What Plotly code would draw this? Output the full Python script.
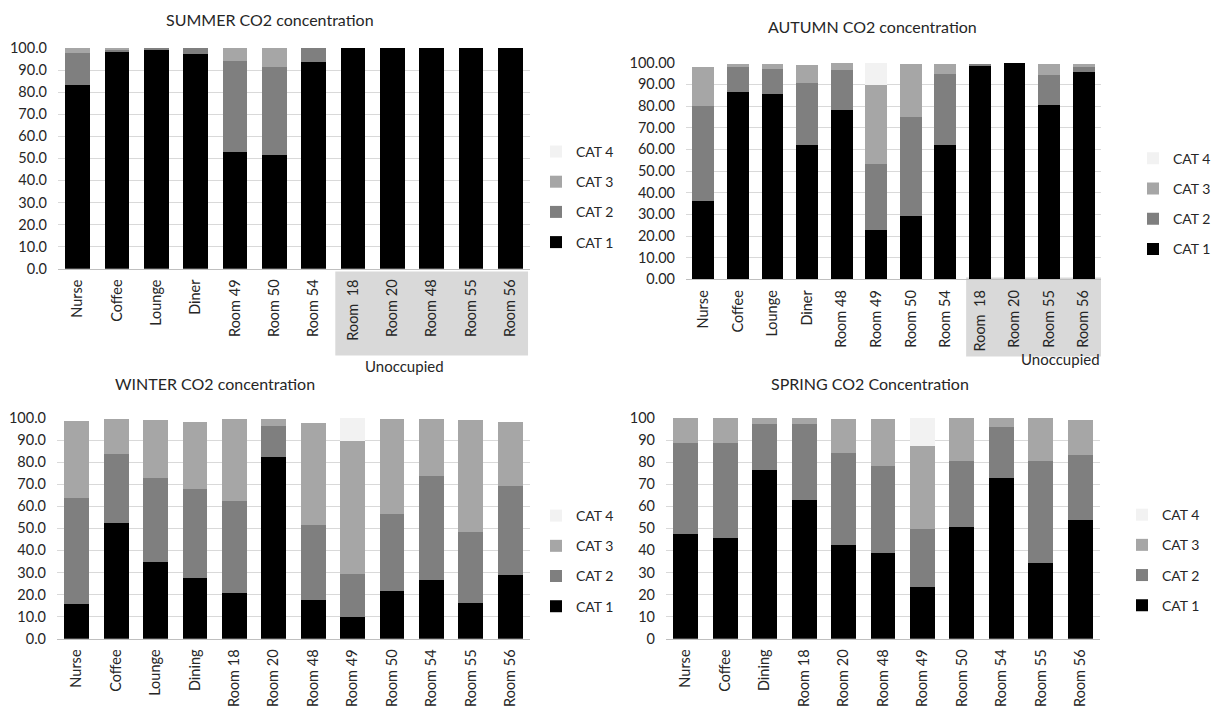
import plotly.graph_objects as go

W, H = 1222, 714

# ---------------- data ----------------
summer_cats = ["Nurse", "Coffee", "Lounge", "Diner", "Room 49", "Room 50", "Room 54",
               "Room  18", "Room 20", "Room 48", "Room 55", "Room 56"]
summer_cat1 = [83.2, 98.2, 99.5, 97.4, 53.0, 51.6, 93.7, 100, 100, 100, 100, 100]
summer_cat2 = [14.5, 1.0, 0.5, 2.6, 41.3, 39.7, 6.3, 0, 0, 0, 0, 0]
summer_cat3 = [2.3, 0.8, 0.0, 0.0, 5.7, 8.7, 0.0, 0, 0, 0, 0, 0]
summer_cat4 = [0, 0, 0, 0, 0, 0, 0, 0, 0, 0, 0, 0]

autumn_cats = ["Nurse", "Coffee", "Lounge", "Diner", "Room 48", "Room 49", "Room 50", "Room 54",
               "Room  18", "Room 20", "Room 55", "Room 56"]
autumn_cat1 = [36.4, 86.7, 85.5, 62.2, 78.3, 22.7, 29.1, 62.2, 98.9, 100.0, 80.6, 95.7]
autumn_cat2 = [43.4, 11.3, 11.7, 28.6, 18.2, 30.6, 45.9, 32.4, 0.6, 0.0, 13.6, 2.3]
autumn_cat3 = [18.2, 1.5, 2.3, 8.0, 3.3, 36.3, 24.5, 4.9, 0.0, 0.0, 5.3, 1.5]
autumn_cat4 = [0, 0, 0, 0, 0, 10.4, 0, 0, 0, 0, 0, 0]

winter_cats = ["Nurse", "Coffee", "Lounge", "Dining", "Room 18", "Room 20", "Room 48", "Room 49",
               "Room 50", "Room 54", "Room 55", "Room 56"]
winter_cat1 = [15.7, 52.3, 34.8, 27.4, 20.5, 82.2, 17.5, 9.9, 21.5, 26.4, 16.1, 28.8]
winter_cat2 = [48.2, 31.3, 37.8, 40.5, 41.8, 14.0, 34.0, 19.3, 34.8, 47.2, 32.4, 40.5]
winter_cat3 = [34.6, 16.1, 26.3, 30.3, 37.4, 3.5, 46.2, 60.3, 43.4, 25.8, 50.7, 28.9]
winter_cat4 = [0, 0, 0, 0, 0, 0, 0, 10.5, 0, 0, 0, 0]

spring_cats = ["Nurse", "Coffee", "Dining", "Room 18", "Room 20", "Room 48", "Room 49",
               "Room 50", "Room 54", "Room 55", "Room 56"]
spring_cat1 = [47.5, 45.6, 76.5, 63.0, 42.5, 38.9, 23.2, 50.4, 72.6, 34.4, 53.9]
spring_cat2 = [41.2, 43.1, 20.8, 34.3, 41.7, 39.2, 26.7, 30.2, 23.2, 46.2, 29.3]
spring_cat3 = [11.3, 11.3, 2.7, 2.7, 15.4, 21.5, 37.3, 19.4, 4.2, 19.4, 15.8]
spring_cat4 = [0, 0, 0, 0, 0, 0, 12.8, 0, 0, 0, 0]

series_names = ["CAT 1", "CAT 2", "CAT 3", "CAT 4"]
series_colors = ["#000000", "#7f7f7f", "#a6a6a6", "#f2f2f2"]
series_rank = [4, 3, 2, 1]

FONT = "Lato, 'Open Sans', sans-serif"
TXT = "#262626"


def px_x(x):
    return x / W


def px_y(y):
    return 1 - y / H


panels = [
    dict(cats=summer_cats, vals=[summer_cat1, summer_cat2, summer_cat3, summer_cat4],
         ax="", leg="legend", xd=(58, 530), yd=(40, 266), fmt=".1f", dtick=10,
         title="SUMMER CO2 concentration", tpos=(270, 11),
         legpos=(536, 130), gap=9),
    dict(cats=autumn_cats, vals=[autumn_cat1, autumn_cat2, autumn_cat3, autumn_cat4],
         ax="2", leg="legend2", xd=(686, 1101), yd=(55, 277), fmt=".2f", dtick=10,
         title="AUTUMN CO2 concentration", tpos=(872, 18),
         legpos=(1133, 137), gap=9),
    dict(cats=winter_cats, vals=[winter_cat1, winter_cat2, winter_cat3, winter_cat4],
         ax="3", leg="legend3", xd=(57, 530), yd=(419, 645), fmt=".1f", dtick=10,
         title="WINTER CO2 concentration", tpos=(215, 384),
         legpos=(536, 503), gap=9),
    dict(cats=spring_cats, vals=[spring_cat1, spring_cat2, spring_cat3, spring_cat4],
         ax="4", leg="legend4", xd=(666, 1100), yd=(419, 645), fmt="d", dtick=10,
         title="SPRING CO2 Concentration", tpos=(870, 384),
         legpos=(1122, 502), gap=9),
]

fig = go.Figure()
layout = dict(
    width=W, height=H,
    margin=dict(l=0, r=0, t=0, b=0),
    paper_bgcolor="white", plot_bgcolor="white",
    barmode="stack", bargap=0.37,
    font=dict(family=FONT, size=14, color=TXT),
    showlegend=True,
)
annotations = []
shapes = []

for p in panels:
    xa = "x" + p["ax"]
    ya = "y" + p["ax"]
    for name, color, rank, vals in zip(series_names, series_colors, series_rank, p["vals"]):
        fig.add_trace(go.Bar(
            x=p["cats"], y=vals, name=name,
            marker=dict(color=color, line=dict(width=0)),
            xaxis=xa, yaxis=ya, legend=p["leg"],
            legendgroup=p["leg"] + name, legendrank=rank,
        ))
    xkey = "xaxis" + p["ax"]
    ykey = "yaxis" + p["ax"]
    layout[xkey] = dict(
        domain=[px_x(p["xd"][0]), px_x(p["xd"][1])],
        anchor=ya, type="category", categoryorder="array", categoryarray=p["cats"],
        tickangle=-90, showline=True, linecolor="#bfbfbf", linewidth=1,
        ticks="", showgrid=False, tickfont=dict(size=14.5, color=TXT, family=FONT),
        ticklabelstandoff=4, fixedrange=True,
    )
    layout[ykey] = dict(
        domain=[px_y(p["yd"][1]), px_y(p["yd"][0])],
        anchor=xa, range=[0, 100], dtick=p["dtick"], tick0=0, tickformat=p["fmt"],
        showgrid=True, gridcolor="#d9d9d9", gridwidth=1, zeroline=False,
        showline=False, ticks="", tickfont=dict(size=14.5, color=TXT, family=FONT),
        ticklabelstandoff=10, fixedrange=True,
    )
    layout[p["leg"]] = dict(
        x=px_x(p["legpos"][0]), y=px_y(p["legpos"][1]),
        xanchor="left", yanchor="top",
        traceorder="grouped", tracegroupgap=p["gap"],
        font=dict(size=14, color=TXT, family=FONT),
        bgcolor="rgba(0,0,0,0)", borderwidth=0,
    )
    annotations.append(dict(
        text=p["title"], x=px_x(p["tpos"][0]), y=px_y(p["tpos"][1]),
        xref="paper", yref="paper", xanchor="center", yanchor="middle",
        showarrow=False, font=dict(size=16, color=TXT, family=FONT),
    ))

# "Unoccupied" shaded groups under the summer and autumn axes
shapes.append(dict(type="rect", xref="x", yref="paper", x0=6.55, x1=11.45,
                   y0=px_y(355), y1=px_y(269), fillcolor="#d9d9d9",
                   line=dict(width=0), layer="below"))
shapes.append(dict(type="rect", xref="x2", yref="paper", x0=7.6, x1=11.5,
                   y0=px_y(356), y1=px_y(275), fillcolor="#d9d9d9",
                   line=dict(width=0), layer="below"))
annotations.append(dict(text="Unoccupied", x=px_x(404), y=px_y(366), xref="paper", yref="paper",
                        showarrow=False, xanchor="center", yanchor="middle",
                        font=dict(size=15, color=TXT, family=FONT)))
annotations.append(dict(text="Unoccupied", x=px_x(1060), y=px_y(359), xref="paper", yref="paper",
                        showarrow=False, xanchor="center", yanchor="middle",
                        font=dict(size=15, color=TXT, family=FONT)))

layout["annotations"] = annotations
layout["shapes"] = shapes
fig.update_layout(**layout)

fig.write_html("out.html")
